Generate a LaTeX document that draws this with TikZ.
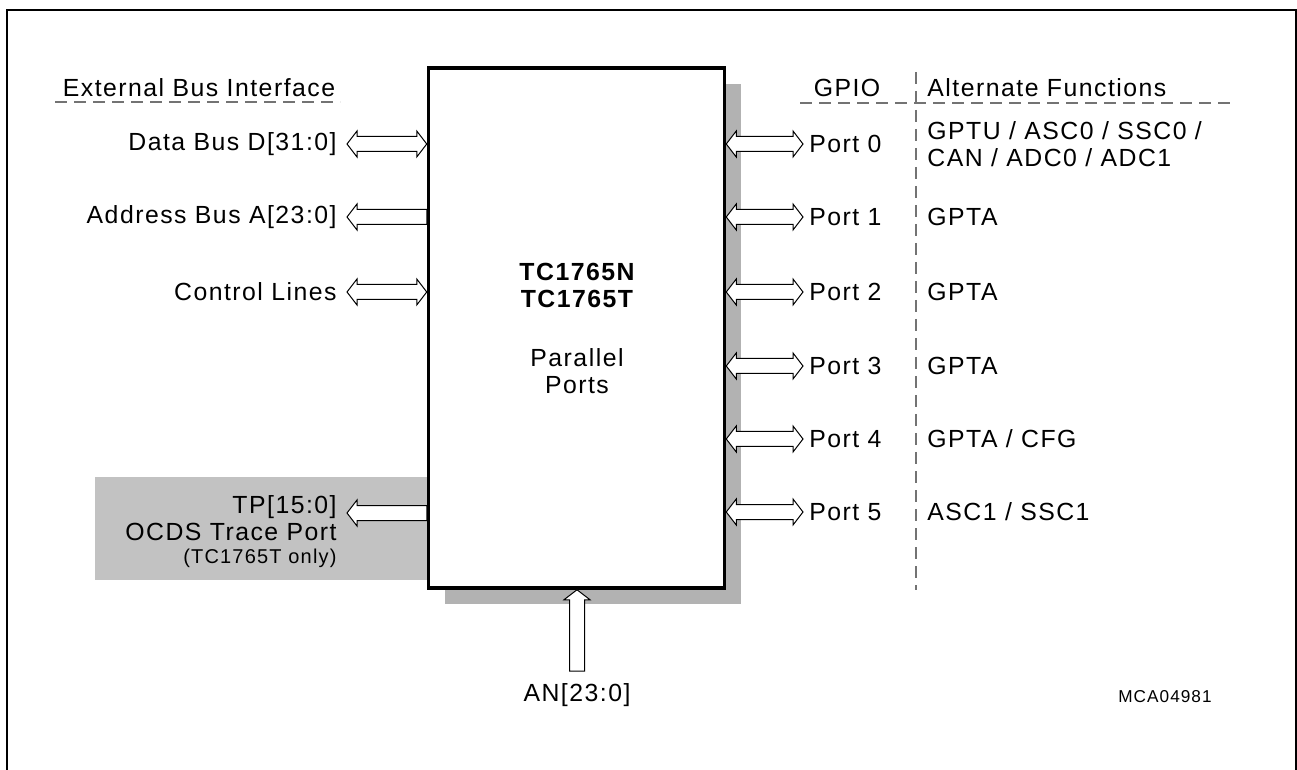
\documentclass[tikz,border=0pt]{standalone}
\usepackage{fontspec}
\setmainfont{Liberation Sans}[LetterSpace=6]
\usetikzlibrary{calc,positioning,shadows}
\definecolor{shadowgray}{gray}{0.70}
\definecolor{tracegray}{gray}{0.76}
\definecolor{rulegray}{gray}{0.45}
\tikzset{
  chip/.style={
    draw,
    line width=1.75pt,
    fill=white,
    minimum width=148pt,
    minimum height=260pt,
    inner sep=0pt,
    drop shadow={shadow xshift=8.25pt, shadow yshift=-8pt, opacity=1, fill=shadowgray}
  },
  lbl/.style={
    inner sep=0pt,
    font=\fontsize{12.4}{13.5}\selectfont
  },
  sig/.style={lbl, anchor=east, inner xsep=5pt},
  portlbl/.style={lbl, anchor=west, inner xsep=3pt},
  func/.style={lbl, anchor=west, align=left},
  sepline/.style={rulegray, line width=0.75pt, dash pattern=on 6pt off 3.5pt},
  onbus/.style={shift={(\tikztostart)}, rotate=\n1},
  bus/.style={
    draw, fill=white, line width=0.5pt,
    to path={
      let \p1=($(\tikztotarget)-(\tikztostart)$),
          \n1={atan2(\y1,\x1)}, \n2={veclen(\x1,\y1)} in
      -- ([onbus]5pt,6.5pt) -- ([onbus]5pt,3.75pt)
      -- ([onbus]{\n2*1pt-5pt},3.75pt) -- ([onbus]{\n2*1pt-5pt},6.5pt)
      -- ([onbus]{\n2*1pt},0pt)
      -- ([onbus]{\n2*1pt-5pt},-6.5pt) -- ([onbus]{\n2*1pt-5pt},-3.75pt)
      -- ([onbus]5pt,-3.75pt) -- ([onbus]5pt,-6.5pt) -- cycle
    }
  },
  busin/.style={
    draw, fill=white, line width=0.5pt,
    to path={
      let \p1=($(\tikztotarget)-(\tikztostart)$),
          \n1={atan2(\y1,\x1)}, \n2={veclen(\x1,\y1)} in
      -- ([onbus]0pt,3.75pt)
      -- ([onbus]{\n2*1pt-5pt},3.75pt) -- ([onbus]{\n2*1pt-5pt},6.5pt)
      -- ([onbus]{\n2*1pt},0pt)
      -- ([onbus]{\n2*1pt-5pt},-6.5pt) -- ([onbus]{\n2*1pt-5pt},-3.75pt)
      -- ([onbus]0pt,-3.75pt) -- cycle
    }
  }
}
\begin{document}
\begin{tikzpicture}[x=0.5pt,y=-0.5pt]
\useasboundingbox (0,0) rectangle (1297,770);
% frame
\draw[line width=1pt] (7,770) |- (1295.5,10.5) -- (1295.5,770);
% trace port area
\fill[tracegray] (95,477) rectangle (430,580);
% device
\node[chip] (chip) at (576.5,328) {};
\node[lbl, font=\fontsize{12.4}{13.5}\selectfont\bfseries, align=center] (name) at (577,285) {TC1765N\\TC1765T};
\node[lbl, align=center] (pp) at (577,371) {Parallel\\Ports};

% external bus interface
\node[lbl] (ebi) at (199,88) {External Bus Interface};
\draw[sepline] (55,102) -- (340,102);
\node[sig] (dbus) at (347,144) {Data Bus D[31:0]};
\node[sig] (abus) at (347,217) {Address Bus A[23:0]};
\node[sig] (ctrl) at (347,292) {Control Lines};
\draw[bus] (dbus.east) to (dbus -| chip.west);
\draw[busin] (abus -| chip.west) to (abus.east);
\draw[bus] (ctrl.east) to (ctrl -| chip.west);

% trace port
\node[sig] (tp) at (347,507) {TP[15:0]};
\node[sig] (ocds) at (347,532) {OCDS Trace Port};
\node[sig, font=\fontsize{10}{12}\selectfont] (only) at (347,558) {(TC1765T only)};
\draw[busin] ([yshift=-3pt]tp.east -| chip.west) to ([yshift=-3pt]tp.east);

% gpio
\node[lbl] (gpio) at (847,88) {GPIO};
\node[func] (altf) at (927,88) {Alternate Functions};
\draw[sepline] (916,72) -- (916,590);
\draw[sepline] (800,103) -- (1232,103);
\foreach \i/\y/\alt in {0/144/{GPTU / ASC0 / SSC0 /\\CAN / ADC0 / ADC1},
                        1/217/{GPTA}, 2/292/{GPTA}, 3/366/{GPTA},
                        4/439/{GPTA / CFG}, 5/512/{ASC1 / SSC1}} {
  \node[portlbl] (p\i) at (803,\y) {Port \i};
  \node[func] (alt\i) at (927,\y) {\alt};
  \draw[bus] (chip.east |- p\i) to (p\i.west);
}

% analog inputs
\node[lbl, inner ysep=6pt] (an) at (577,695) {AN[23:0]};
\draw[busin] (an.north) to (an.north |- chip.south);

\node[lbl, font=\fontsize{8.6}{10}\selectfont] (fig) at (1165,697) {MCA04981};
\end{tikzpicture}
\end{document}
